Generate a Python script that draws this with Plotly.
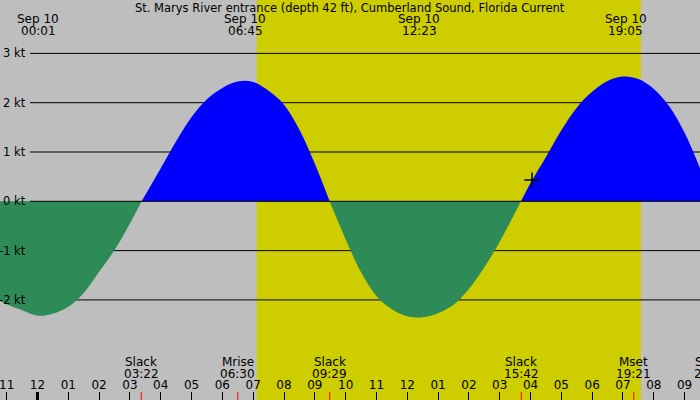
import plotly.graph_objects as go

# current speed (kt), hours from midnight Sep 10
hours = [-1.22, -1.0, -0.5, 0.0, 0.5, 1.0, 1.5, 2.0, 2.5, 3.0, 3.38,
         4.0, 4.5, 5.0, 5.5, 6.0, 6.5, 7.0, 7.5, 8.0, 8.5, 9.0, 9.48,
         10.0, 10.5, 11.0, 11.5, 12.0, 12.5, 13.0, 13.5, 14.0, 14.5, 15.0, 15.69,
         16.0, 16.5, 17.0, 17.5, 18.0, 18.5, 19.0, 19.5, 20.0, 20.5, 21.0, 21.5]
speed = [-2.02, -2.09, -2.21, -2.32, -2.28, -2.14, -1.86, -1.43, -0.99, -0.45, 0.0,
         0.67, 1.22, 1.71, 2.07, 2.30, 2.43, 2.42, 2.24, 1.96, 1.45, 0.76, 0.0,
         -0.77, -1.44, -1.92, -2.19, -2.33, -2.35, -2.27, -2.10, -1.78, -1.34, -0.82, 0.0,
         0.37, 0.90, 1.44, 1.90, 2.22, 2.44, 2.53, 2.48, 2.28, 1.93, 1.39, 0.67]

# max / min current labels (top)
extreme_times = ["00:01", "06:45", "12:23", "19:05"]
extreme_dates = ["Sep 10", "Sep 10", "Sep 10", "Sep 10"]

# slack + moon events (bottom)
event_names = ["Slack", "Mrise", "Slack", "Slack", "Mset", "Slack"]
event_times = ["03:22", "06:30", "09:29", "15:42", "19:21", "21:52"]

sunrise, sunset = "07:07", "19:35"
now_time, now_speed = 16.05, 0.43

kt_levels = [3, 2, 1, 0, -1, -2]
tick_hours = list(range(-1, 22))
tick_labels = ["11", "12", "01", "02", "03", "04", "05", "06", "07", "08", "09",
               "10", "11", "12", "01", "02", "03", "04", "05", "06", "07", "08",
               "09"]

title = "St. Marys River entrance (depth 42 ft), Cumberland Sound, Florida Current"

X_RANGE = [-1.217, 21.5]
Y_RANGE = [-4.03, 4.083]
FONT = "DejaVu Sans"
BLUE, GREEN, YELLOW, GREY = "#0000ff", "#2e8b57", "#cdcd00", "#bebebe"


def hh(s):
    h, m = s.split(":")
    return int(h) + int(m) / 60


def xfrac(h):
    # hours -> paper fraction (labels may sit past the right edge)
    return (h - X_RANGE[0]) / (X_RANGE[1] - X_RANGE[0])


fig = go.Figure()

# split the curve into flood / ebb lobes at the slack (zero) points
segs, cur = [], []
for t, v in zip(hours, speed):
    cur.append((t, v))
    if v == 0 and len(cur) > 1:
        segs.append(cur)
        cur = [(t, v)]
segs.append(cur)

for seg in segs:
    col = BLUE if max(v for _, v in seg) > 0 else GREEN
    fig.add_trace(go.Scatter(
        x=[t for t, _ in seg], y=[v for _, v in seg],
        mode="lines", line=dict(shape="spline", width=0, color=col),
        fill="tozeroy", fillcolor=col, hoverinfo="skip"))

fig.add_trace(go.Scatter(
    x=[now_time], y=[now_speed], mode="markers",
    marker=dict(symbol="cross-thin", size=11, line=dict(width=1.5, color="black"))))

shapes = [dict(type="rect", xref="x", yref="paper", x0=hh(sunrise), x1=hh(sunset),
               y0=0, y1=1, fillcolor=YELLOW, line_width=0, layer="below")]
for lvl in kt_levels:
    shapes.append(dict(type="line", xref="paper", yref="y", x0=30 / 700, x1=1,
                       y0=lvl, y1=lvl, line=dict(color="black", width=1),
                       layer="above" if lvl == 0 else "below"))
# date change tick
shapes.append(dict(type="line", xref="x", yref="paper", x0=0, x1=0, y0=0, y1=0.02,
                   line=dict(color="black", width=3)))
for t in event_times[:-1]:
    shapes.append(dict(type="line", xref="x", yref="paper", x0=hh(t), x1=hh(t),
                       y0=0, y1=0.02, line=dict(color="red", width=1)))

ann = [dict(text=title, xref="paper", yref="paper", x=0.5, y=1 - 8 / 400,
            xanchor="center", yanchor="middle", showarrow=False,
            font=dict(size=11.5))]
for lvl in kt_levels:
    ann.append(dict(text=f"{lvl} kt", xref="paper", yref="y", x=28 / 700, y=lvl,
                    xanchor="right", yanchor="middle", showarrow=False,
                    font=dict(size=11.5)))
for d, t in zip(extreme_dates, extreme_times):
    ann.append(dict(text=d, xref="x", yref="paper", x=hh(t), y=1 - 19 / 400,
                    xanchor="center", yanchor="middle", showarrow=False))
    ann.append(dict(text=t, xref="x", yref="paper", x=hh(t), y=1 - 31 / 400,
                    xanchor="center", yanchor="middle", showarrow=False))
for n, t in zip(event_names, event_times):
    ann.append(dict(text=n, xref="paper", yref="paper", x=xfrac(hh(t)), y=1 - 361.5 / 400,
                    xanchor="center", yanchor="middle", showarrow=False))
    ann.append(dict(text=t, xref="paper", yref="paper", x=xfrac(hh(t)), y=1 - 373.5 / 400,
                    xanchor="center", yanchor="middle", showarrow=False))

fig.update_layout(
    width=700, height=400, margin=dict(l=0, r=0, t=0, b=0),
    paper_bgcolor=GREY, plot_bgcolor=GREY, showlegend=False,
    font=dict(family=FONT, size=12, color="black"),
    shapes=shapes, annotations=ann,
    xaxis=dict(range=X_RANGE, tickvals=tick_hours, ticktext=tick_labels,
               ticks="inside", ticklen=8, tickcolor="black", tickwidth=1,
               ticklabelposition="inside", ticklabeloverflow="allow",
               showgrid=False, zeroline=False, showline=False,
               tickfont=dict(family=FONT, size=12, color="black")),
    yaxis=dict(range=Y_RANGE, visible=False),
)

# drop the default page margin so the 700x400 figure fills the window
fig.write_html("out.html", config={"displayModeBar": False},
               post_script="document.body.style.margin='0';")
